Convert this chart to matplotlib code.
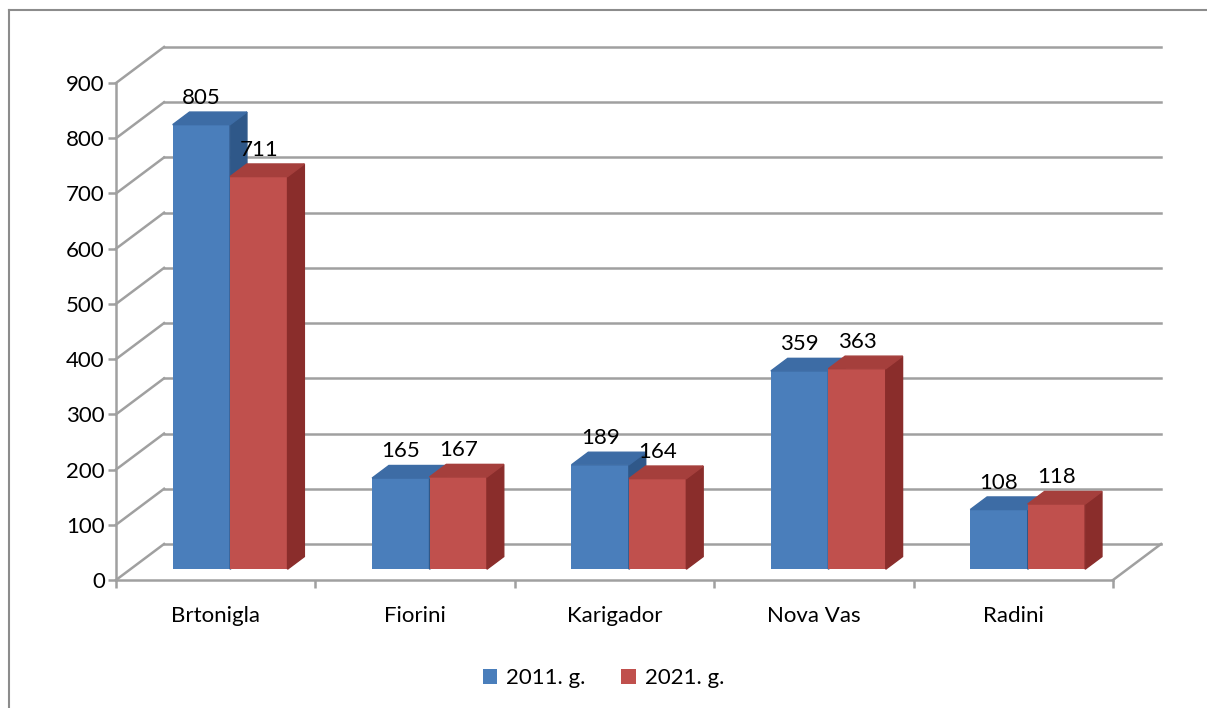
import matplotlib
matplotlib.use('Agg')
import matplotlib.pyplot as plt
from matplotlib.patches import Polygon, Patch
from matplotlib.lines import Line2D

plt.rcParams['font.family'] = ['Lato', 'DejaVu Sans']

# Podaci
naselja = ['Brtonigla', 'Fiorini', 'Karigador', 'Nova Vas', 'Radini']
god_2011 = [805, 165, 189, 359, 108]
god_2021 = [711, 167, 164, 363, 118]
serije = ['2011. g.', '2021. g.']
y_ticks = [0, 100, 200, 300, 400, 500, 600, 700, 800, 900]

# Boje (lice, vrh, bok)
boje = [('#4a7ebb', '#3d6ca5', '#2f5889'),
        ('#c0504d', '#a53f3c', '#8a2d2b')]

# "3D" pomak dubine u jedinicama podataka
DX, DY = 0.241, 65.2
BAR_D = 0.35      # dubina stupca (udio)
BAR_Z = 0.30      # polozaj prednje plohe stupca
SIRINA = 0.288
GRID = '#a0a0a0'

fig = plt.figure(figsize=(12.07, 7.08), dpi=100)
ax = fig.add_axes([116/1207, 1-580/708, (1113-116)/1207, (580-83)/708])
ax.set_xlim(0, 5)
ax.set_ylim(0, 900)

# Zidovi i mreza
for v in y_ticks:
    ax.plot([DX, 5+DX], [v+DY, v+DY], color=GRID, lw=1.8, clip_on=False, zorder=1)
    ax.plot([0, DX], [v, v+DY], color=GRID, lw=1.8, clip_on=False, zorder=1)
ax.plot([5, 5+DX], [0, DY], color=GRID, lw=1.8, clip_on=False, zorder=1)

# Stupci
zx, zy = BAR_Z*DX, BAR_Z*DY
dx, dy = BAR_D*DX, BAR_D*DY
for s, vrijednosti in enumerate([god_2011, god_2021]):
    lice, vrh, bok = boje[s]
    for i, v in enumerate(vrijednosti):
        x0 = i + 0.5 - SIRINA + s*SIRINA + zx
        x1 = x0 + SIRINA
        z = 3 + i*2 + s
        ax.bar(x0, v, width=SIRINA, bottom=zy, align='edge', color=lice,
               zorder=z, clip_on=False)
        ax.add_patch(Polygon([(x1, zy), (x1+dx, zy+dy), (x1+dx, zy+v+dy), (x1, zy+v)],
                             closed=True, color=bok, zorder=z, clip_on=False))
        ax.add_patch(Polygon([(x0, zy+v), (x0+dx, zy+v+dy), (x1+dx, zy+v+dy), (x1, zy+v)],
                             closed=True, color=vrh, zorder=z, clip_on=False))
        ax.text((x0+x1)/2, zy+v+dy+8, str(v), ha='center', va='bottom',
                fontsize=16, color='black', zorder=20)

# Osi
for sp in ['top', 'right']:
    ax.spines[sp].set_visible(False)
for sp in ['left', 'bottom']:
    ax.spines[sp].set_color(GRID)
    ax.spines[sp].set_linewidth(1.8)
    ax.spines[sp].set_zorder(2)
ax.set_yticks(y_ticks)
ax.set_yticklabels([str(t) for t in y_ticks])
ax.tick_params(axis='y', length=6, width=1.8, color=GRID, labelsize=16, pad=2)
ax.set_xticks([i + 0.5 for i in range(len(naselja))])
ax.set_xticklabels(naselja)
ax.set_xticks(range(len(naselja)+1), minor=True)
ax.tick_params(axis='x', which='major', length=0, labelsize=16, pad=19)
ax.tick_params(axis='x', which='minor', length=6, width=1.8, color=GRID, direction='out')

# Legenda
rucke = [Patch(facecolor=boje[0][0]), Patch(facecolor=boje[1][0])]
fig.legend(rucke, serije, loc='center', bbox_to_anchor=(0.5, 1-678/708), ncol=2,
           frameon=False, fontsize=16, handlelength=0.65, handleheight=0.65,
           handletextpad=0.4, columnspacing=1.6)

# Okvir grafikona
fig.add_artist(Line2D([9/1207, 1], [1-10/708, 1-10/708], color='#8c8c8c', lw=1.5))
fig.add_artist(Line2D([9/1207, 9/1207], [0, 1-10/708], color='#8c8c8c', lw=1.5))

fig.savefig('out.png', dpi=100)
